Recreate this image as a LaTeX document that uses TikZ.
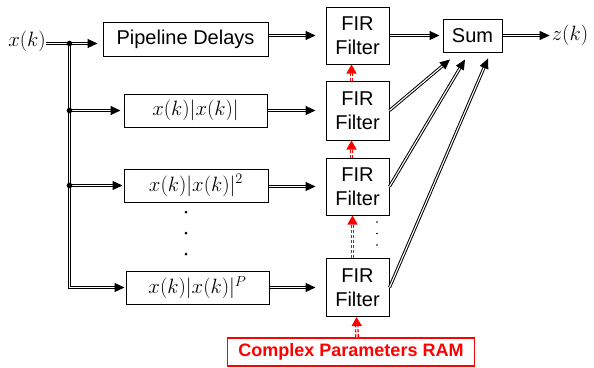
\documentclass[tikz,border=0pt]{standalone}
\usepackage{fontspec}
\setmainfont{Liberation Sans}
\usetikzlibrary{arrows.meta,calc}
\begin{document}
\begin{tikzpicture}[x=1pt,y=-1pt,
  box/.style={draw=black, line width=1pt, inner sep=0pt, align=center,
    font=\fontsize{20}{24}\selectfont},
  mbox/.style={box, font=\fontsize{21}{25}\selectfont},
  lbl/.style={inner sep=0pt, font=\fontsize{22}{26}\selectfont},
  dbl/.style={draw=black, double=white, double distance=1.1pt, line width=1pt,
    -{Triangle[length=10pt,width=9pt]}},
  rdbl/.style={draw=red, double=white, double distance=1.2pt, line width=1.3pt,
    dash pattern=on 3pt off 2pt, -{Triangle[length=9pt,width=10pt,fill=red]}},
  jdot/.style={fill=black},
]
\useasboundingbox (0,0) rectangle (594,367);

% nodes
\node[lbl] (xin) at (27,41.5) {$x(k)$};
\node[box, minimum width=165pt, minimum height=34pt] (pd) at (185.5,39) {Pipeline Delays};
\node[mbox, minimum width=143pt, minimum height=33pt] (m2) at (195.5,110.5) {$x(k)|x(k)|$};
\node[mbox, minimum width=144pt, minimum height=33pt] (m3) at (196,185.5) {$x(k)|x(k)|^2$};
\node[mbox, minimum width=143pt, minimum height=33pt] (m4) at (197.5,287.5) {$x(k)|x(k)|^P$};
\node[box, minimum width=63pt, minimum height=57pt] (f1) at (357.5,35.5) {FIR\\Filter};
\node[box, minimum width=63pt, minimum height=59pt] (f2) at (357.5,110.5) {FIR\\Filter};
\node[box, minimum width=63pt, minimum height=57pt] (f3) at (357.5,186.5) {FIR\\Filter};
\node[box, minimum width=63pt, minimum height=58pt] (f4) at (357.5,287.5) {FIR\\Filter};
\node[box, minimum width=59pt, minimum height=33pt] (sum) at (472.5,35.5) {Sum};
\node[lbl] (zout) at (570,35.5) {$z(k)$};
\node[draw=red, line width=1.5pt, inner sep=0pt, minimum width=247pt, minimum height=28pt,
  text=red, font=\fontsize{18}{22}\selectfont\bfseries] (ram) at (351,352) {Complex Parameters RAM};

\coordinate (j1) at (69.5,43.5);
\coordinate (j2) at (69.5,110.5);
\coordinate (j3) at (69.5,185.5);

% input distribution
\draw[dbl, shorten >=1pt] (j1) |- (m4.west);
\draw[dbl, shorten >=5pt] (xin.east |- j1) -- (j1 -| pd.west);
\draw[dbl, shorten >=3pt] (j2) -- (j2 -| m2.west);
\draw[dbl, shorten >=1pt] (j3) -- (j3 -| m3.west);
\fill[jdot] (j1) circle (2.8pt);
\fill[jdot] (j2) circle (2.8pt);
\fill[jdot] (j3) circle (2.8pt);

% to FIR filters
\draw[dbl, shorten >=10pt] (pd.east |- f1.west) -- (f1.west);
\draw[dbl, shorten >=10pt] (m2.east |- f2.west) -- (f2.west);
\draw[dbl, shorten >=10pt] (m3.east |- f3.west) -- (f3.west);
\draw[dbl, shorten >=10pt] (m4.east |- f4.west) -- (f4.west);

% to sum
\draw[dbl, shorten >=3pt] (f1.east) -- (sum.west);
\draw[dbl] (f2.east) -- ([xshift=-22.5pt,yshift=-7pt]sum.south);
\draw[dbl] (f3.east) -- ([xshift=-7.5pt,yshift=-7pt]sum.south);
\draw[dbl] (f4.east) -- ([xshift=15.5pt,yshift=-6pt]sum.south);
\draw[dbl, shorten >=2pt] (sum.east) -- (zout.west);

% coefficient chain
\draw[rdbl] ([xshift=-6pt]f2.north) -- ([xshift=-6pt]f1.south);
\draw[rdbl] ([xshift=-6pt]f3.north) -- ([xshift=-6pt]f2.south);
\draw[rdbl] ([xshift=-5pt]f4.north) -- ([xshift=-5pt]f3.south);
\draw[rdbl] ([xshift=6pt]ram.north) -- ([xshift=-1pt]f4.south);

% ellipsis dots
\fill (186,212) circle (1.5pt);
\fill (186,233) circle (1.5pt);
\fill (186,254) circle (1.5pt);
\fill (377,222) circle (0.8pt);
\fill (377,233.5) circle (0.8pt);
\fill (377,245) circle (0.8pt);
\end{tikzpicture}
\end{document}
